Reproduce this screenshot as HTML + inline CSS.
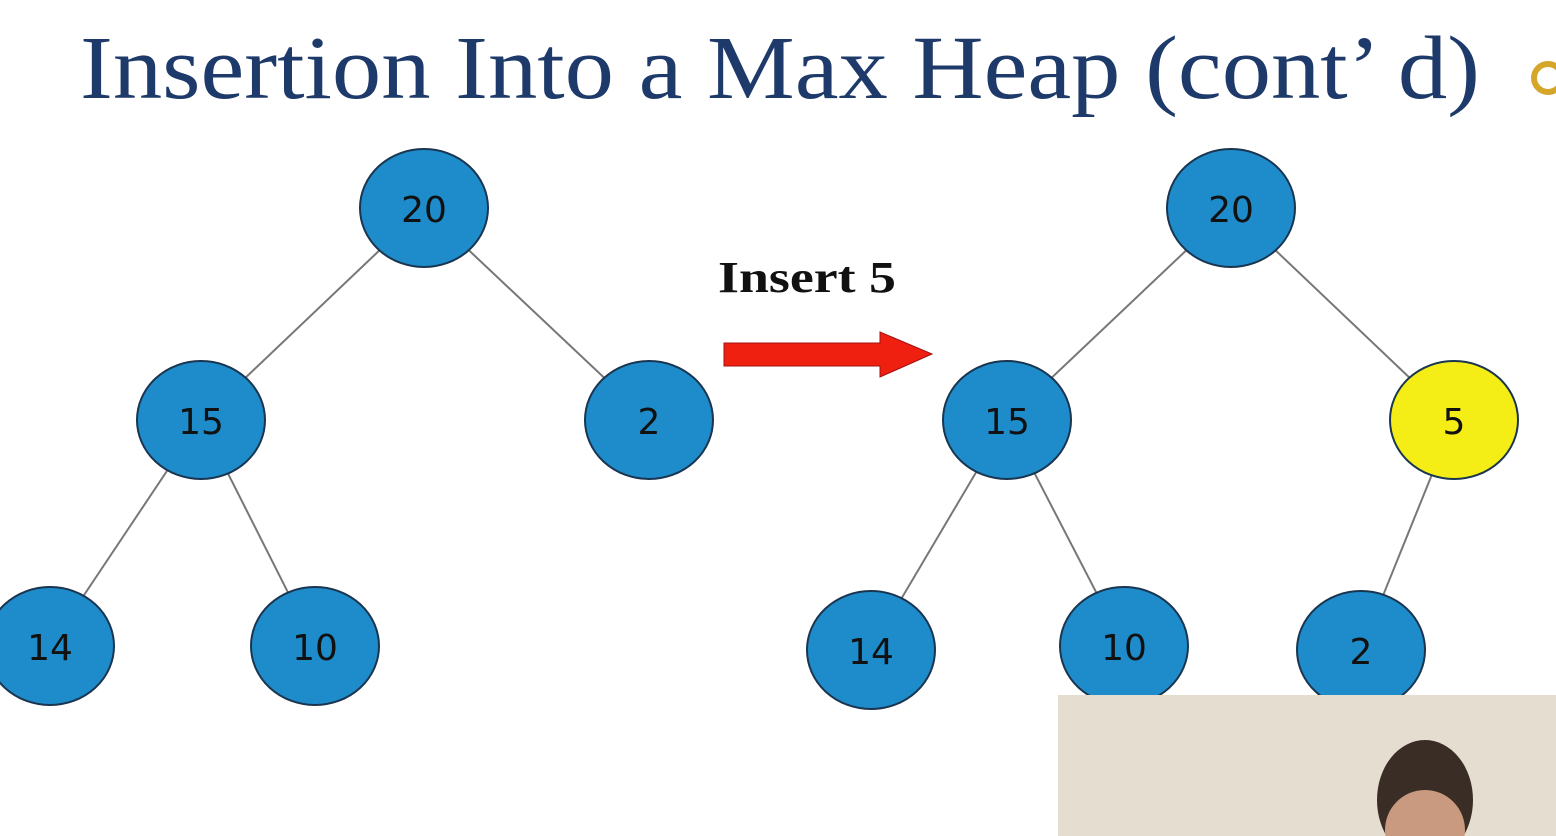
<!DOCTYPE html>
<html><head><style>
body{margin:0;width:1556px;height:836px;overflow:hidden;background:#fff;position:relative}
svg{position:absolute;left:0;top:0}
</style></head><body>
<svg width="1556" height="836" xmlns="http://www.w3.org/2000/svg">
<text x="80" y="98" font-family="Liberation Serif" font-size="90" fill="#1d3a6a" textLength="1400" lengthAdjust="spacingAndGlyphs">Insertion Into a Max Heap (cont’ d)</text>
<circle cx="1548" cy="78" r="14" fill="none" stroke="#d4a62a" stroke-width="6"/>
<g stroke="#777" stroke-width="2">
<line x1="424" y1="208" x2="201" y2="420"/><line x1="424" y1="208" x2="649" y2="420"/>
<line x1="201" y1="420" x2="50" y2="646"/><line x1="201" y1="420" x2="315" y2="646"/>
<line x1="1231" y1="208" x2="1007" y2="420"/><line x1="1231" y1="208" x2="1454" y2="420"/>
<line x1="1007" y1="420" x2="871" y2="650"/><line x1="1007" y1="420" x2="1124" y2="646"/>
<line x1="1454" y1="420" x2="1361" y2="650"/>
</g>
<g stroke="#1a3550" stroke-width="2" fill="#1e8ccb">
<ellipse cx="424" cy="208" rx="64" ry="59"/>
<ellipse cx="201" cy="420" rx="64" ry="59"/>
<ellipse cx="649" cy="420" rx="64" ry="59"/>
<ellipse cx="50" cy="646" rx="64" ry="59"/>
<ellipse cx="315" cy="646" rx="64" ry="59"/>
<ellipse cx="1231" cy="208" rx="64" ry="59"/>
<ellipse cx="1007" cy="420" rx="64" ry="59"/>
<ellipse cx="1454" cy="420" rx="64" ry="59" fill="#f5ee16"/>
<ellipse cx="871" cy="650" rx="64" ry="59"/>
<ellipse cx="1124" cy="646" rx="64" ry="59"/>
<ellipse cx="1361" cy="650" rx="64" ry="59"/>
</g>
<g font-family="DejaVu Sans" font-size="36" fill="#111" text-anchor="middle">
<text x="424" y="222">20</text><text x="201" y="434">15</text><text x="649" y="434">2</text>
<text x="50" y="660">14</text><text x="315" y="660">10</text>
<text x="1231" y="222">20</text><text x="1007" y="434">15</text><text x="1454" y="434">5</text>
<text x="871" y="664">14</text><text x="1124" y="660">10</text><text x="1361" y="664">2</text>
</g>
<text x="718" y="292" font-family="Liberation Serif" font-weight="bold" font-size="44" fill="#111" textLength="178" lengthAdjust="spacingAndGlyphs">Insert 5</text>
<polygon points="724,343 880,343 880,332 932,354 880,377 880,366 724,366" fill="#f02010" stroke="#a01010" stroke-width="1"/>
<rect x="1058" y="695" width="498" height="141" fill="#e4ddd0"/>
<ellipse cx="1425" cy="800" rx="48" ry="60" fill="#3a2d26"/>
<ellipse cx="1425" cy="830" rx="40" ry="40" fill="#c99a80"/>
</svg>
</body></html>
